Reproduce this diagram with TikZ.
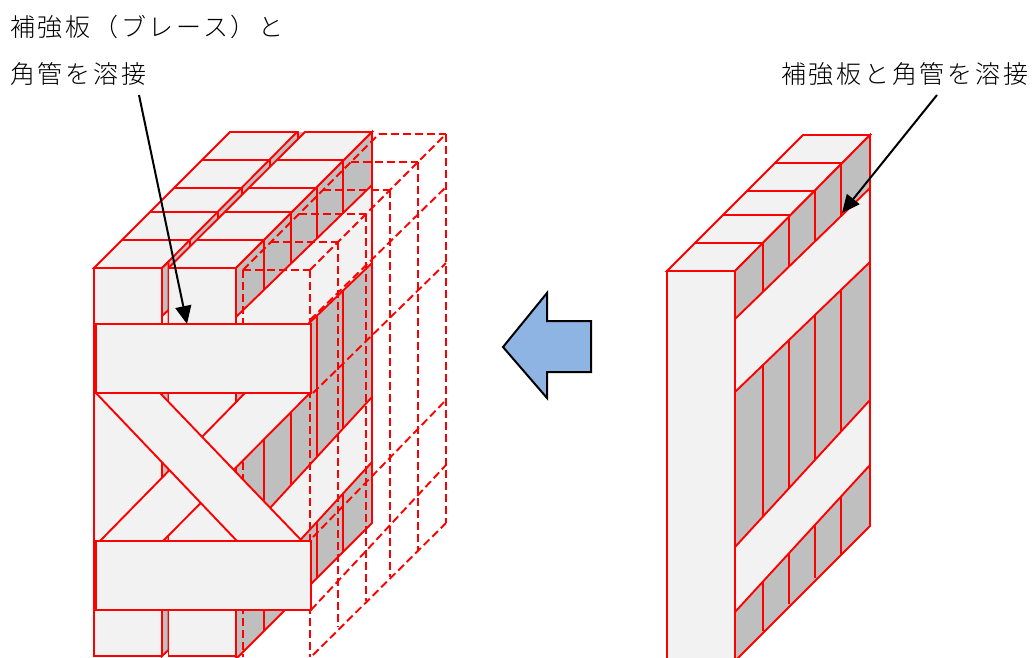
\documentclass[tikz,border=0pt]{standalone}
\usepackage{fontspec}
\newfontfamily\jp[LetterSpace=11]{Noto Sans CJK JP Light}
\usetikzlibrary{arrows.meta}
\definecolor{lite}{HTML}{F2F2F2}
\definecolor{mid}{HTML}{BFBFBF}
\definecolor{blue1}{HTML}{8EB4E3}
\tikzset{
 x=1pt,y=-1pt,
 lt/.style={draw=red,fill=lite,line width=1.9pt,line join=miter},
 gr/.style={draw=red,fill=mid,line width=1.9pt},
 ln/.style={draw=red,line width=1.9pt},
 pl/.style={draw=red,fill=lite,line width=2.4pt},
 ds/.style={draw=red,line width=1.9pt,dash pattern=on 8pt off 4pt},
 lab/.style={font=\jp\fontsize{25}{25}\selectfont,anchor=west,inner sep=0pt,black},
 ar/.style={draw=black,line width=2pt,-{Triangle[width=16pt,length=18pt]}}
}
\begin{document}
\begin{tikzpicture}
\useasboundingbox (0,0) rectangle (1036,657);
\clip (0,0) rectangle (1036,657);
% left: tops
\fill[mid] (162,268)--(297,132)--(305,132)--(168.5,268)--cycle;
\path[lt] (94,268)--(230,132)--(297,132)--(162,268)--cycle;
\path[lt] (168.5,268)--(305,132)--(372,132)--(236,268)--cycle;
\foreach \d in {28,56,80,108}{
 \draw[ln] (94+\d,268-\d)--(162+\d,268-\d);
 \draw[ln] (168.5+\d,268-\d)--(236+\d,268-\d);
}
\foreach \d in {28,56,80,108,136}{
 \draw[ln] (162+\d,268-\d)--(162+\d,274.5-\d);
}
% gap strip
\path[gr] (162,268)--(168.5,262)--(168.5,650)--(162,656)--cycle;
\path[lt] (162,316)--(168.5,310)--(168.5,387)--(162,393)--cycle;
% fronts
\path[lt] (94,268) rectangle (162,656);
\path[lt] (168.5,268) rectangle (236,656);
% right face
\path[gr] (236,268)--(372,132)--(372,523)--(236,659)--cycle;
\foreach \x/\yb in {264/631,291/604,317/578,343/552}{
 \pgfmathsetmacro{\yt}{268-(\x-236)}
 \draw[ln] (\x,\yt)--(\x,\yb);
}
% bands on right face
\path[lt] (236,317)--(372,185)--(372,263)--(236,393)--cycle;
\path[lt] (236,545)--(372,397)--(372,462)--(236,610)--cycle;
% dashed box
\foreach \d/\yb in {0/657,28/627,56/601,80/577,108/550,136/523}{
 \draw[ds] (310+\d,270-\d)--(310+\d,\yb);
 \draw[ds] (243+\d,270-\d)--(310+\d,270-\d);
}
\draw[ds] (243,270)--(243,657);
\draw[ds] (243,270)--(379,134);
\draw[ds] (310,270)--(446,134);
\draw[ds] (310,320)--(446,187);
\draw[ds] (313,393)--(446,263);
\draw[ds] (313,537)--(446,400);
\draw[ds] (311,610)--(446,465);
\draw[ds] (313,655)--(446,523);
% braces
\path[lt] (100,541)--(245,393)--(310,393)--(163,541)--cycle;
\path[lt] (96,393)--(160,393)--(302,541)--(237,541)--cycle;
\path[pl] (96,324) rectangle (311,393);
\path[pl] (96,541) rectangle (311,610);
% right panel
\path[lt] (667,271)--(803,135)--(870,135)--(735,271)--cycle;
\path[gr] (735,271)--(870,135)--(870,526)--(735,661)--cycle;
\path[lt] (667,271) rectangle (735,670);
\foreach \d in {28,56,80,108}{
 \draw[ln] (667+\d,271-\d)--(735+\d,271-\d);
}
\foreach \x/\yb in {763/631,789/604,815/578,841/554}{
 \pgfmathsetmacro{\yt}{271-(\x-735)}
 \draw[ln] (\x,\yt)--(\x,\yb);
}
\path[lt] (735,319)--(870,188)--(870,262)--(735,392)--cycle;
\path[lt] (735,547)--(870,400)--(870,465)--(735,612)--cycle;
% blue arrow
\draw[black,fill=blue1,line width=2pt,line join=miter] (503,347)--(547,293)--(547,321)--(591,321)--(591,372)--(547,372)--(547,398)--cycle;
% labels
\node[lab] (t1) at (10,27) {補強板（ブレース）と};
\node[lab] (t2) at (10,74) {角管を溶接};
\node[lab] (t3) at (781,74) {補強板と角管を溶接};
\coordinate (p1) at (187,324);
\coordinate (s1) at (139,95);
\coordinate (p2) at (842,213);
\coordinate (s2) at (937,95);
\draw[ar] (s1)--(p1);
\draw[ar] (s2)--(p2);
\end{tikzpicture}
\end{document}
